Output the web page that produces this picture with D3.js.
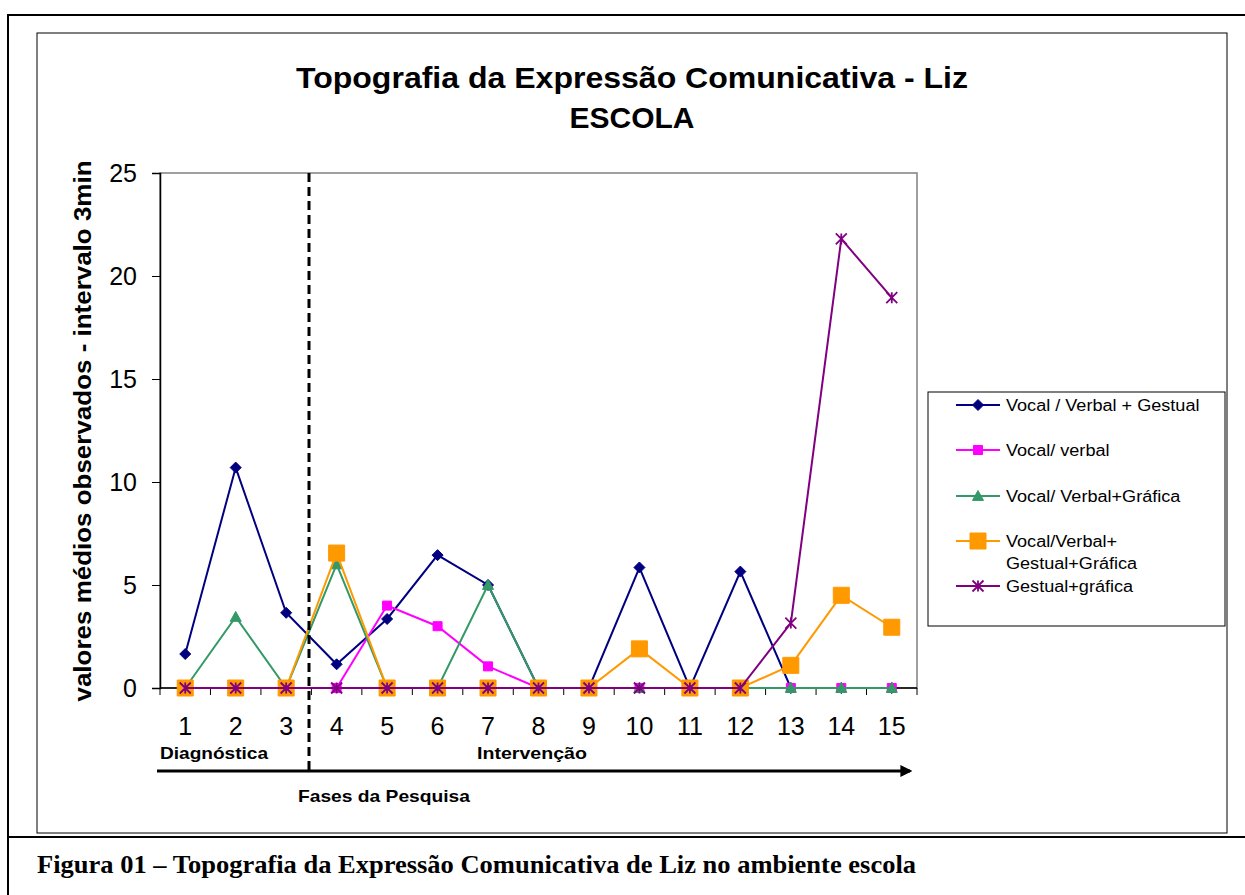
<!DOCTYPE html>
<html>
<head>
<meta charset="utf-8">
<script src="https://cdn.jsdelivr.net/npm/d3@7"></script>
<style>
  body { margin: 0; background: #fff; }
  svg text { font-family: "Liberation Sans", Arial, sans-serif; }
</style>
</head>
<body>
<div id="chart"></div>
<script>
const FASES = ["1","2","3","4","5","6","7","8","9","10","11","12","13","14","15"];
const Y_TICKS = [0, 5, 10, 15, 20, 25];

const VOCAL_VERBAL_GESTUAL = [1.65, 10.7, 3.65, 1.15, 3.35, 6.45, 5.0, 0, 0, 5.85, 0, 5.65, 0, 0, 0];
const VOCAL_VERBAL = [0, 0, 0, 0, 4.0, 3.0, 1.05, 0, 0, 0, 0, 0, 0, 0, 0];
const VOCAL_VERBAL_GRAFICA = [0, 3.45, 0, 6.0, 0, 0, 5.0, 0, 0, 0, 0, 0, 0, 0, 0];
const VOCAL_VERBAL_GESTUAL_GRAFICA = [0, 0, 0, 6.55, 0, 0, 0, 0, 0, 1.9, 0, 0, 1.1, 4.5, 2.95];
const GESTUAL_GRAFICA = [0, 0, 0, 0, 0, 0, 0, 0, 0, 0, 0, 0, 3.15, 21.8, 18.95];

const SERIES = [
  { name: ["Vocal / Verbal + Gestual"], values: VOCAL_VERBAL_GESTUAL, color: "#000080", marker: "diamond", size: 11 },
  { name: ["Vocal/ verbal"], values: VOCAL_VERBAL, color: "#ff00ff", marker: "square", size: 9 },
  { name: ["Vocal/ Verbal+Gráfica"], values: VOCAL_VERBAL_GRAFICA, color: "#339966", marker: "triangle", size: 11 },
  { name: ["Vocal/Verbal+", "Gestual+Gráfica"], values: VOCAL_VERBAL_GESTUAL_GRAFICA, color: "#ff9900", marker: "square", size: 16 },
  { name: ["Gestual+gráfica"], values: GESTUAL_GRAFICA, color: "#800080", marker: "star", size: 11 }
];

const W = 1245, H = 895;
const PLOT = { left: 160, right: 917, top: 173, bottom: 688 };

const svg = d3.select("#chart").append("svg")
  .attr("width", W).attr("height", H);

// the text in the source image is a bit wider than our fonts give: stretch it
function stretch(sel, factor) {
  sel.each(function () {
    const w = this.getComputedTextLength();
    d3.select(this).attr("textLength", w * factor).attr("lengthAdjust", "spacingAndGlyphs");
  });
}

// outer frame (page box) and chart frame
svg.append("path")
  .attr("d", "M8,895 L8,15 L1250,15 M8,837 L1250,837")
  .attr("fill", "none").attr("stroke", "#000").attr("stroke-width", 2);
svg.append("rect")
  .attr("x", 37).attr("y", 33).attr("width", 1190).attr("height", 800)
  .attr("fill", "#fff").attr("stroke", "#000").attr("stroke-width", 1);

// scales
const x = d3.scaleBand().domain(FASES).range([PLOT.left, PLOT.right]);
const y = d3.scaleLinear().domain([0, 25]).range([PLOT.bottom, PLOT.top]);
const cx = d => x(d) + x.bandwidth() / 2;

// plot area border (grey)
svg.append("rect")
  .attr("x", PLOT.left).attr("y", PLOT.top)
  .attr("width", PLOT.right - PLOT.left).attr("height", PLOT.bottom - PLOT.top)
  .attr("fill", "none").attr("stroke", "#808080").attr("stroke-width", 1.5);

// titles
svg.append("text")
  .attr("x", 632).attr("y", 88)
  .attr("text-anchor", "middle")
  .attr("font-weight", "bold").attr("font-size", 30)
  .attr("textLength", 672).attr("lengthAdjust", "spacingAndGlyphs")
  .text("Topografia da Expressão Comunicativa - Liz");
svg.append("text")
  .attr("x", 632).attr("y", 128)
  .attr("text-anchor", "middle")
  .attr("font-weight", "bold").attr("font-size", 30)
  .text("ESCOLA");

svg.append("text")
  .attr("transform", "translate(91,431) rotate(-90)")
  .attr("text-anchor", "middle")
  .attr("font-weight", "bold").attr("font-size", 24)
  .attr("textLength", 541).attr("lengthAdjust", "spacingAndGlyphs")
  .text("valores médios observados - intervalo 3min");

// y axis
const yAxis = svg.append("g")
  .attr("transform", `translate(${PLOT.left},0)`)
  .call(d3.axisLeft(y).tickValues(Y_TICKS).tickSize(8).tickPadding(15).tickFormat(d3.format("d")));
yAxis.select(".domain").attr("stroke", "#000").attr("stroke-width", 1.5);
yAxis.selectAll("text").attr("font-size", 25).attr("fill", "#000")
  .style("font-family", "Liberation Sans, Arial, sans-serif");

// x axis: ticks at category boundaries
const xAxis = svg.append("g")
  .attr("transform", `translate(0,${PLOT.bottom})`);
xAxis.append("line")
  .attr("x1", PLOT.left).attr("x2", PLOT.right)
  .attr("stroke", "#000").attr("stroke-width", 1.5);
xAxis.selectAll("line.tk")
  .data(FASES.concat(["end"]))
  .join("line")
  .attr("class", "tk")
  .attr("x1", (d, i) => i < FASES.length ? x(d) : PLOT.right)
  .attr("x2", (d, i) => i < FASES.length ? x(d) : PLOT.right)
  .attr("y1", 0).attr("y2", 7)
  .attr("stroke", "#000").attr("stroke-width", 1);
xAxis.selectAll("text")
  .data(FASES)
  .join("text")
  .attr("x", d => cx(d))
  .attr("y", 47)
  .attr("text-anchor", "middle")
  .attr("font-size", 25)
  .text(d => d);

// marker shapes
function markerPath(type, s) {
  const h = s / 2;
  if (type === "diamond") return `M0,${-h}L${h},0L0,${h}L${-h},0Z`;
  if (type === "square") return `M${-h},${-h}H${h}V${h}H${-h}Z`;
  if (type === "triangle") return `M0,${-h}L${h},${h * 0.8}L${-h},${h * 0.8}Z`;
  // asterisk
  return `M${-h},${-h}L${h},${h}M${-h},${h}L${h},${-h}M0,${-h}V${h}`;
}

// series lines and markers
const line = d3.line().x((d, i) => cx(FASES[i])).y(d => y(d));

SERIES.forEach(s => {
  const g = svg.append("g");
  g.append("path")
    .datum(s.values)
    .attr("d", line)
    .attr("fill", "none")
    .attr("stroke", s.color)
    .attr("stroke-width", 2);
  g.selectAll("path.mk")
    .data(s.values)
    .join("path")
    .attr("class", "mk")
    .attr("transform", (d, i) => `translate(${cx(FASES[i])},${y(d)})`)
    .attr("d", markerPath(s.marker, s.size))
    .attr("fill", s.marker === "star" ? "none" : s.color)
    .attr("stroke", s.color)
    .attr("stroke-width", s.marker === "star" ? 1.8 : 1);
});

// phase divider (dashed)
svg.append("line")
  .attr("x1", 309).attr("x2", 309)
  .attr("y1", PLOT.top).attr("y2", 772)
  .attr("stroke", "#000").attr("stroke-width", 3)
  .attr("stroke-dasharray", "9,5");

// phase labels and arrow
svg.append("text").attr("x", 160).attr("y", 759)
  .attr("font-weight", "bold").attr("font-size", 17)
  .attr("textLength", 108).attr("lengthAdjust", "spacingAndGlyphs")
  .text("Diagnóstica");
svg.append("text").attr("x", 477).attr("y", 759)
  .attr("font-weight", "bold").attr("font-size", 17)
  .attr("textLength", 110).attr("lengthAdjust", "spacingAndGlyphs")
  .text("Intervenção");

svg.append("defs").append("marker")
  .attr("id", "arrow").attr("viewBox", "0 0 10 10")
  .attr("refX", 8).attr("refY", 5)
  .attr("markerWidth", 4).attr("markerHeight", 4)
  .attr("orient", "auto")
  .append("path").attr("d", "M0,0L10,5L0,10Z").attr("fill", "#000");
svg.append("line")
  .attr("x1", 157).attr("x2", 910)
  .attr("y1", 771).attr("y2", 771)
  .attr("stroke", "#000").attr("stroke-width", 3)
  .attr("marker-end", "url(#arrow)");

svg.append("text").attr("x", 298).attr("y", 802)
  .attr("font-weight", "bold").attr("font-size", 17)
  .attr("textLength", 172).attr("lengthAdjust", "spacingAndGlyphs")
  .text("Fases da Pesquisa");

// legend
const legend = svg.append("g").attr("transform", "translate(928,392)");
legend.append("rect")
  .attr("width", 297).attr("height", 234)
  .attr("fill", "#fff").attr("stroke", "#000").attr("stroke-width", 1);
const legendY = [13, 58, 104, 149, 194];
SERIES.forEach((s, i) => {
  const ly = legendY[i];
  const item = legend.append("g").attr("transform", `translate(0,${ly})`);
  item.append("line").attr("x1", 28).attr("x2", 72)
    .attr("stroke", s.color).attr("stroke-width", 2);
  item.append("path")
    .attr("transform", "translate(50,0)")
    .attr("d", markerPath(s.marker, s.size))
    .attr("fill", s.marker === "star" ? "none" : s.color)
    .attr("stroke", s.color)
    .attr("stroke-width", s.marker === "star" ? 1.8 : 1);
  const t = item.append("text").attr("font-size", 16);
  s.name.forEach((n, j) => {
    t.append("tspan").attr("x", 78).attr("y", 6 + j * 22).text(n);
  });
  stretch(t.selectAll("tspan"), 1.13);
});

// figure caption
svg.append("text")
  .attr("x", 37).attr("y", 873)
  .style("font-family", "Liberation Serif, Times New Roman, serif")
  .attr("font-weight", "bold").attr("font-size", 25)
  .attr("textLength", 879).attr("lengthAdjust", "spacingAndGlyphs")
  .text("Figura 01 – Topografia da Expressão Comunicativa de Liz no ambiente escola");
</script>
</body>
</html>
